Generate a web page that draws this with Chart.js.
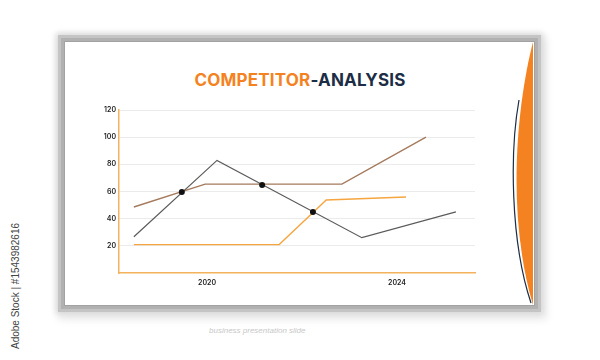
<!DOCTYPE html>
<html>
<head>
<meta charset="utf-8">
<script src="https://cdn.jsdelivr.net/npm/chart.js@4/dist/chart.umd.min.js"></script>
<style>
  body { margin: 0; width: 600px; height: 360px; background: #fff; position: relative; overflow: hidden; font-family: Inter, "Noto Sans", sans-serif; }
  #panel { position: absolute; left: 65px; top: 42px; width: 469px; height: 263px; background: #fff;
    box-shadow: 0 0 0 1px #a2a2a2, 0 0 0 4px #b1b1b1, 0 0 0 7px #c4c4c4, 0 0 6px 9px #d8d8d8, 3px 5px 8px 10px rgba(0,0,0,0.08); }
  #title { position: absolute; left: 0; width: 600px; top: 70px; text-align: center; font-size: 17px; font-weight: 700; letter-spacing: 0.2px; }
  #title .a { color: #f58220; }
  #title .b { color: #1c2d45; }
  #swoosh { position: absolute; left: 0; top: 0; }
  #stock { position: absolute; left: 15px; top: 286px; transform: translate(-50%, -50%) rotate(-90deg); font-size: 10px; color: #444; white-space: nowrap; font-family: "Liberation Sans", sans-serif; }
  #caption { position: absolute; left: 209px; top: 326px; font-size: 8px; font-style: italic; color: #c8c8c8; font-family: "Liberation Sans Narrow", "Liberation Sans", sans-serif; }
  #wrap { position: absolute; left: 0; top: 0; width: 600px; height: 360px; }
</style>
</head>
<body>
<div id="panel"></div>
<svg id="swoosh" width="600" height="360">
  <path d="M533,42 C518,100 505,210 533,305 Z" fill="#f58220"/>
  <path d="M519,100 C510,150 510,240 531,303" fill="none" stroke="#1c2d45" stroke-width="1.2"/>
</svg>
<div id="title"><span class="a">COMPETITOR</span><span class="b">-ANALYSIS</span></div>
<div id="stock">Adobe Stock | #1543982616</div>
<div id="caption">business presentation slide</div>
<div id="wrap"><canvas id="chart" width="600" height="360"></canvas></div>
<script>
const xTicks = [2020, 2024];
const yTicks = [20, 40, 60, 80, 100, 120];

const greyYears = [2018.46, 2020.21, 2023.26, 2025.24];
const greyValues = [26.7, 82.9, 26, 45];

const brownYears = [2018.46, 2019.96, 2022.84, 2024.61];
const brownValues = [48.6, 65.4, 65.4, 100];

const orangeYears = [2018.46, 2021.52, 2022.51, 2024.19];
const orangeValues = [20.9, 20.9, 53.7, 55.9];

const dotYears = [2019.47, 2021.16, 2022.23];
const dotValues = [59.6, 64.7, 45];

function pts(xs, ys) {
  return xs.map((x, i) => ({ x: x, y: ys[i] }));
}

const ctx = document.getElementById('chart');
new Chart(ctx, {
  type: 'line',
  data: {
    datasets: [
      {
        data: pts(dotYears, dotValues),
        showLine: false,
        pointRadius: 3,
        pointBackgroundColor: '#111',
        pointBorderWidth: 0
      },
      {
        data: pts(greyYears, greyValues),
        borderColor: '#5a5a5a',
        borderWidth: 1.2,
        pointRadius: 0
      },
      {
        data: pts(brownYears, brownValues),
        borderColor: '#a57a5c',
        borderWidth: 1.4,
        pointRadius: 0
      },
      {
        data: pts(orangeYears, orangeValues),
        borderColor: '#f5a640',
        borderWidth: 1.4,
        pointRadius: 0
      }
    ]
  },
  options: {
    responsive: false,
    animation: false,
    layout: { padding: { left: 90, right: 125, top: 110, bottom: 67 } },
    plugins: { legend: { display: false }, tooltip: { enabled: false } },
    scales: {
      x: {
        type: 'linear',
        min: 2018.147,
        max: 2025.642,
        afterBuildTicks: s => { s.ticks = xTicks.map(v => ({ value: v })); },
        afterFit: s => { s.height = 20; },
        grid: { display: false, drawTicks: false },
        border: { color: '#f5b25c', width: 1.5 },
        ticks: {
          padding: 6,
          color: '#222',
          font: { family: 'Inter', size: 7, weight: '600' },
          callback: v => String(v)
        }
      },
      y: {
        min: 0,
        max: 120,
        afterBuildTicks: s => { s.ticks = yTicks.map(v => ({ value: v })); },
        afterFit: s => { s.width = 29; },
        grid: { color: '#ebebeb', lineWidth: 1, drawTicks: false },
        border: { color: '#f5b25c', width: 1.5 },
        ticks: {
          padding: 3,
          color: '#222',
          font: { family: 'Inter', size: 7, weight: '600' }
        }
      }
    }
  }
});
</script>
</body>
</html>
